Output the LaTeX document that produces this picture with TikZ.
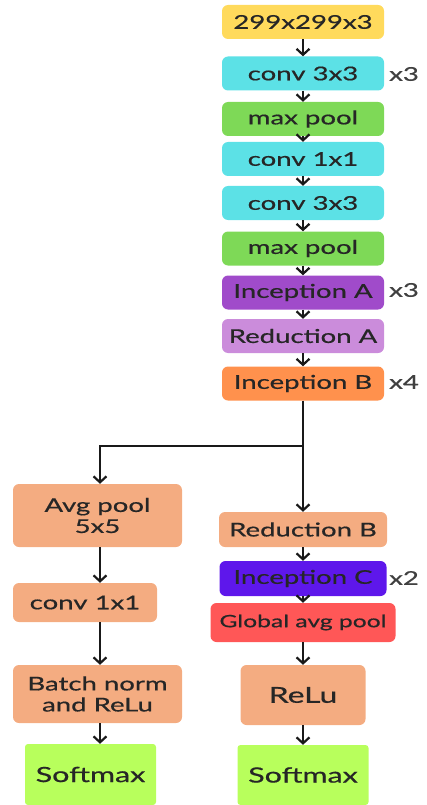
\documentclass[tikz,border=0pt]{standalone}
\usepackage{fontspec}
\setmainfont[FakeStretch=1.45,FakeBold=0.6]{Lato}
\usepackage{tikz}
\usetikzlibrary{arrows.meta}
\definecolor{inyellow}{HTML}{FFDA5C}
\definecolor{convcyan}{HTML}{5CE1E6}
\definecolor{poolgreen}{HTML}{7ED957}
\definecolor{incpurple}{HTML}{A04BCA}
\definecolor{redlilac}{HTML}{CB8CDB}
\definecolor{incorange}{HTML}{FF914D}
\definecolor{salmon}{HTML}{F4AC81}
\definecolor{incblue}{HTML}{5E17EB}
\definecolor{gapred}{HTML}{FF5757}
\definecolor{softlime}{HTML}{B8FF5C}

\begin{document}
\begin{tikzpicture}[x=1pt,y=-1pt]
\tikzstyle{layer}=[rounded corners=6pt,inner sep=0pt,text=black!85,font=\fontsize{19}{21}\selectfont,minimum width=162pt,minimum height=34pt,align=center]
\tikzstyle{times}=[text=black!75,font=\fontsize{19}{21}\selectfont,anchor=west,inner sep=0pt]
\tikzstyle{arr}=[-{Straight Barb[length=6pt,width=13pt,line width=2.2pt]},line width=2.2pt,black!90]
\useasboundingbox (0,0) rectangle (427,805);
\node[layer,fill=inyellow] (1) at (303,22) {299x299x3};
\node[layer,fill=convcyan] (2) at (303,73.5) {conv 3x3};
\node[layer,fill=poolgreen] (3) at (303,119) {max pool};
\node[layer,fill=convcyan] (4) at (303,159) {conv 1x1};
\node[layer,fill=convcyan] (5) at (303,203) {conv 3x3};
\node[layer,fill=poolgreen] (6) at (303,248.5) {max pool};
\node[layer,fill=incpurple] (7) at (303,292.5) {Inception A};
\node[layer,fill=redlilac] (8) at (303,336) {Reduction A};
\node[layer,fill=incorange] (9) at (303,383.5) {Inception B};
\node[times] at (389,74) {x3};
\node[times] at (389,290) {x3};
\node[times] at (389,382) {x4};
\node[layer,fill=salmon,minimum width=168pt,minimum height=35pt] (10) at (303,529.5) {Reduction B};
\node[layer,fill=incblue,minimum width=167pt,minimum height=35pt] (11) at (303,578.5) {Inception C};
\node[layer,fill=gapred,minimum width=185pt,minimum height=39pt,font=\fontsize{17}{19}\selectfont] (12) at (303,622.5) {Global avg pool};
\node[layer,fill=salmon,minimum width=125pt,minimum height=60pt,font=\fontsize{22}{24}\selectfont] (13) at (303,695) {ReLu};
\node[layer,fill=softlime,minimum width=131pt,minimum height=60pt,rounded corners=3pt,font=\fontsize{21}{23}\selectfont] (14) at (303,775) {Softmax};
\node[times] at (389,578) {x2};
\node[layer,fill=salmon,minimum width=169pt,minimum height=63pt] (15) at (97.5,515.5) {Avg pool\\5x5};
\node[layer,fill=salmon,minimum width=144pt,minimum height=39pt] (16) at (85,602.5) {conv 1x1};
\node[layer,fill=salmon,minimum width=169pt,minimum height=58pt] (17) at (97.5,694) {Batch norm\\and ReLu};
\node[layer,fill=softlime,minimum width=131pt,minimum height=61pt,rounded corners=3pt,font=\fontsize{21}{23}\selectfont] (18) at (90.5,774.5) {Softmax};
\coordinate (split) at (303,446);
\foreach \a/\b in {1/2,2/3,3/4,4/5,5/6,6/7,7/8,8/9,10/11,11/12,12/13,13/14}
  \draw[arr] (\a) -- (\b);
\draw[arr,line width=2.8pt] (9) -- (10);
\draw[arr] (split) -| (15.north -| 100,0);
\draw[arr] (15.south -| 100,0) -- (16.north -| 100,0);
\draw[arr] (16.south -| 100,0) -- (17.north -| 100,0);
\draw[arr] (17.south -| 100,0) -- (18.north -| 100,0);
\end{tikzpicture}
\end{document}
